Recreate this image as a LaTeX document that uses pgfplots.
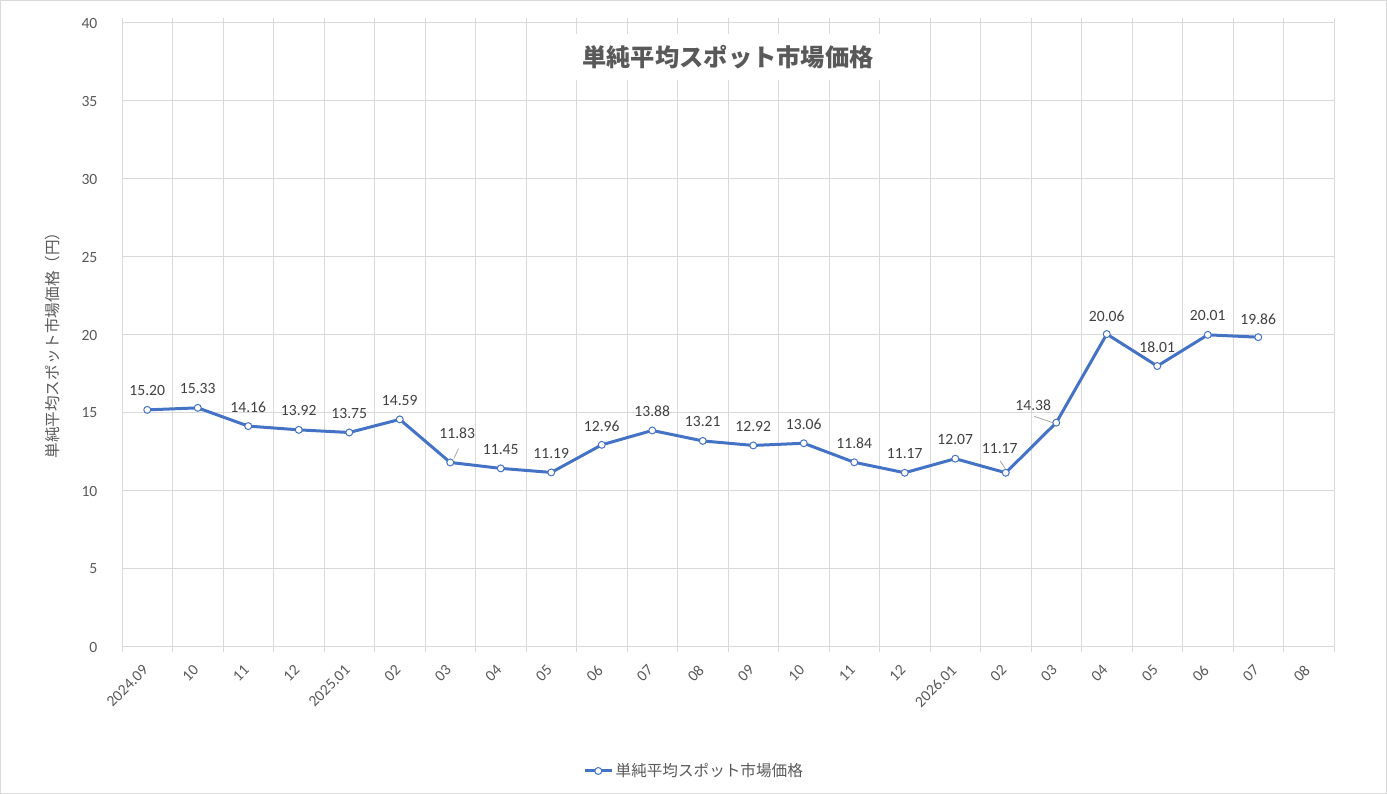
\documentclass[border=0pt]{standalone}
\usepackage{fontspec}
\setmainfont{Carlito}
\newfontfamily\cjk{Noto Sans CJK JP}
\usepackage{pgfplots}
\usepackage{pgfplotstable}
\pgfplotsset{compat=1.18}
\definecolor{gridc}{HTML}{D9D9D9}
\definecolor{txt}{HTML}{595959}
\definecolor{lbl}{HTML}{404040}
\definecolor{linec}{HTML}{4472C4}
\definecolor{lead}{HTML}{A6A6A6}

\pgfplotstableread{
x y dx dy
0.5 15.20 0 14.25
1.5 15.33 0 14.25
2.5 14.16 0 14.25
3.5 13.92 0 14.25
4.5 13.75 0 14.25
5.5 14.59 0 14.25
6.5 11.83 5.25 21.75
7.5 11.45 0 14.25
8.5 11.19 0 14.25
9.5 12.96 0 14.25
10.5 13.88 0 14.25
11.5 13.21 0 14.25
12.5 12.92 0 14.25
13.5 13.06 0 14.25
14.5 11.84 0 14.25
15.5 11.17 0 14.25
16.5 12.07 0 14.25
17.5 11.17 -4.5 18
18.5 14.38 -17.25 12.75
19.5 20.06 0 13.5
20.5 18.01 0 14.25
21.5 20.01 0 14.25
22.5 19.86 0 13.5
}\data

\pgfplotstableread{
x y u v
6.573 12.086 0.091 0.641
17.486 11.452 -0.099 0.487
18.429 14.38 -0.364 0.404
}\leaderdata

\begin{document}
\begin{tikzpicture}
\path[use as bounding box] (0,0) rectangle (1040.25bp,595.5bp);
\begin{axis}[
  at={(91.5bp,110.25bp)}, anchor=south west,
  width=909bp, height=468bp, scale only axis,
  xmin=0, xmax=24, ymin=0, ymax=40,
  xtick={0.5,1.5,...,23.5},
  xticklabels={2024.09,10,11,12,2025.01,02,03,04,05,06,07,08,09,10,11,12,2026.01,02,03,04,05,06,07,08},
  minor xtick={0,1,...,24},
  ytick={0,5,...,40},
  xminorgrids=true, ymajorgrids=true, xmajorgrids=false,
  grid style={gridc, line width=0.75bp},
  minor grid style={gridc, line width=0.75bp},
  axis line style={gridc, line width=0.75bp},
  tick align=outside,
  major x tick style={draw=none},
  minor x tick style={gridc, line width=0.75bp},
  minor tick length=3.75bp,
  ytick style={draw=none},
  /pgf/number format/assume math mode=true,
  xticklabel style={xshift=-4bp, yshift=-8.4bp, rotate=45, anchor=north east, inner sep=0pt, font=\fontsize{11.7bp}{14bp}\selectfont, text=txt},
  yticklabel style={anchor=east, inner sep=0pt, xshift=-14bp, font=\fontsize{11.7bp}{14bp}\selectfont, text=txt},
  ylabel={\cjk 単純平均スポット市場価格（円）},
  ylabel style={at={(axis description cs:-0.0569,0.4896)}, anchor=center, font=\fontsize{11.7bp}{14bp}\selectfont, text=txt},
  title={\cjk\bfseries 単純平均スポット市場価格},
  title style={at={(axis description cs:0.5,0.9327)}, anchor=center, fill=white, inner xsep=6bp, inner ysep=8bp, text=txt, font=\fontsize{18.2bp}{22bp}\selectfont},
  legend style={at={(axis description cs:0.4724,-0.1987)}, anchor=center, draw=none, fill=none, font=\fontsize{11.7bp}{14bp}\selectfont, text=txt},
  legend image code/.code={\draw[mark repeat=2,mark phase=2,#1] plot coordinates {(0cm,0cm) (0.35cm,0cm) (0.7cm,0cm)};},
]
\addplot[lead, line width=0.6bp, mark=none, forget plot, quiver={u=\thisrow{u}, v=\thisrow{v}}] table[x=x,y=y] {\leaderdata};
\addplot[linec, line width=2.25bp, mark=*, mark size=2.6bp,
  mark options={fill=white, draw=linec, line width=0.75bp},
  point meta=y,
  visualization depends on={\thisrow{dx}\as\dx},
  visualization depends on={\thisrow{dy}\as\dy},
  nodes near coords={\pgfmathprintnumber[fixed,fixed zerofill,precision=2]{\pgfplotspointmeta}},
  every node near coord/.append style={anchor=center, xshift={\dx*1bp}, yshift={\dy*1bp}, inner sep=0pt, text=lbl, font=\fontsize{11.7bp}{14bp}\selectfont}
] table[x=x,y=y] {\data};
\addlegendentry{\cjk 単純平均スポット市場価格}
\end{axis}
\draw[gridc, line width=0.75bp] (0.375bp,0.375bp) rectangle (1039.875bp,595.125bp);
\end{tikzpicture}
\end{document}
